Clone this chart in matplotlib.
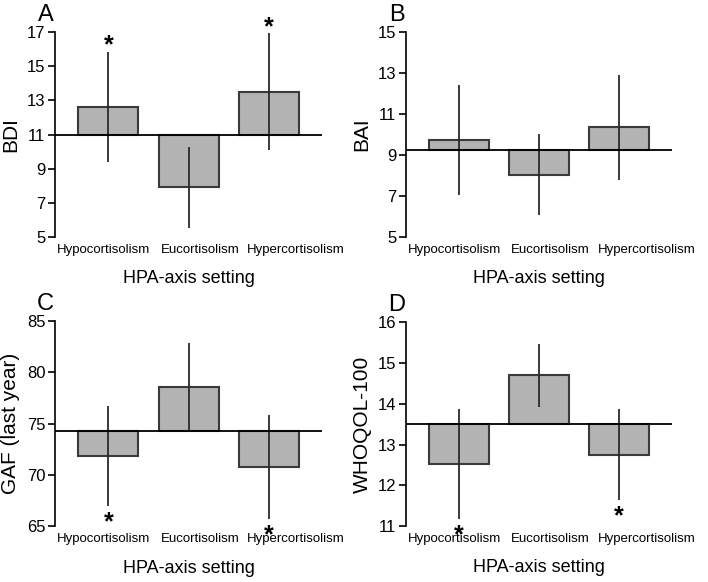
import numpy as np
import matplotlib.pyplot as plt

plt.rcParams['font.family'] = ['Liberation Sans', 'DejaVu Sans']

# group labels
groups = ["Hypocortisolism", "Eucortisolism", "Hypercortisolism"]
label_pos = [-0.06, 1.14, 2.34]

# panel A: BDI
bdi_mean = [12.63, 7.9, 13.5]
bdi_err = [3.22, 2.4, 3.42]
bdi_ref = 11.0
bdi_ticks = [5, 7, 9, 11, 13, 15, 17]

# panel B: BAI
bai_mean = [9.73, 8.03, 10.35]
bai_err = [2.68, 1.98, 2.55]
bai_ref = 9.24
bai_ticks = [5, 7, 9, 11, 13, 15]

# panel C: GAF (last year)
gaf_mean = [71.83, 78.57, 70.77]
gaf_err = [4.88, 4.28, 5.07]
gaf_ref = 74.27
gaf_ticks = [65, 70, 75, 80, 85]

# panel D: WHOQOL-100
whoqol_mean = [12.52, 14.7, 12.745]
whoqol_err = [1.345, 0.775, 1.115]
whoqol_ref = 13.5
whoqol_ticks = [11, 12, 13, 14, 15, 16]

# significance stars: 1 = above whisker, -1 = below whisker, 0 = none
bdi_star = [1, 0, 1]
bai_star = [0, 0, 0]
gaf_star = [-1, 0, -1]
whoqol_star = [-1, 0, -1]


def panel(ax, letter, ylabel, mean, err, ref, ticks, stars):
    x = np.arange(len(groups))
    mean = np.array(mean)
    err = np.array(err)
    ax.bar(x, mean - ref, bottom=ref, width=0.75, color='#b3b3b3',
           edgecolor='#3a3a3a', linewidth=1.5, zorder=2)
    ax.vlines(x, mean - err, mean + err, color='#2a2a2a', linewidth=1.3, zorder=3)
    ax.axhline(ref, color='black', linewidth=1.3, zorder=4)
    for i, s in enumerate(stars):
        if s == 0:
            continue
        yv = mean[i] + s * err[i]
        off = 4.5 if s > 0 else -11.5
        ax.annotate('*', (x[i], yv), xytext=(0, off), textcoords='offset points',
                    ha='center', va='center', fontsize=18, fontweight='bold',
                    annotation_clip=False, zorder=5)
    ax.set_xlim(-0.665, 2.66)
    ax.set_ylim(ticks[0], ticks[-1])
    ax.set_yticks(ticks)
    ax.set_xticks(label_pos)
    ax.set_xticklabels(groups, fontsize=9.5)
    ax.tick_params(axis='x', length=0, pad=5)
    ax.tick_params(axis='y', length=5, width=1.2, labelsize=12, pad=2)
    for sp in ['top', 'right', 'bottom']:
        ax.spines[sp].set_visible(False)
    ax.spines['left'].set_linewidth(1.2)
    ax.set_ylabel(ylabel, fontsize=15, va='center')
    ax.yaxis.set_label_coords(-0.165, 0.5)
    ax.set_xlabel("HPA-axis setting", fontsize=13, va='center')
    ax.xaxis.set_label_coords(0.5, -0.205)
    ax.text(-0.035, 1.085, letter, transform=ax.transAxes, fontsize=17,
            ha='center', va='center')


fig = plt.figure(figsize=(7.08, 5.82), dpi=100)
axA = fig.add_axes([0.0777, 0.5928, 0.377, 0.352])
axB = fig.add_axes([0.5734, 0.5928, 0.3757, 0.352])
axC = fig.add_axes([0.0777, 0.0962, 0.377, 0.352])
axD = fig.add_axes([0.5734, 0.0962, 0.3757, 0.350])

panel(axA, "A", "BDI", bdi_mean, bdi_err, bdi_ref, bdi_ticks, bdi_star)
panel(axB, "B", "BAI", bai_mean, bai_err, bai_ref, bai_ticks, bai_star)
panel(axC, "C", "GAF (last year)", gaf_mean, gaf_err, gaf_ref, gaf_ticks, gaf_star)
panel(axD, "D", "WHOQOL-100", whoqol_mean, whoqol_err, whoqol_ref, whoqol_ticks, whoqol_star)

fig.savefig("out.png", dpi=100)
plt.close()
